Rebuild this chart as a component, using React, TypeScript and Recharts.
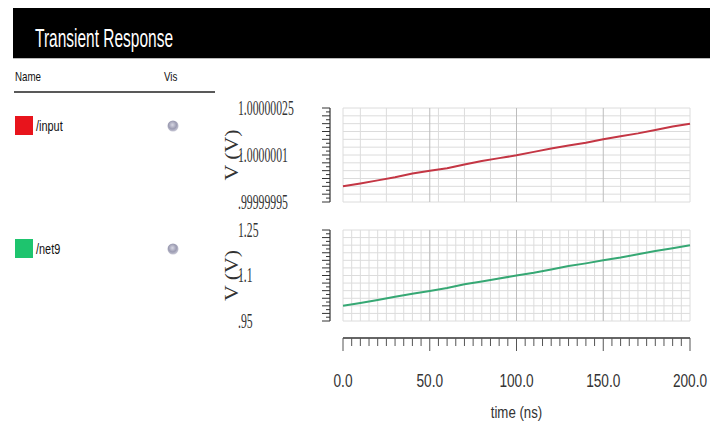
import React from "react";
import { LineChart, Line, XAxis, YAxis, CartesianGrid, ReferenceLine } from "recharts";

// ---------- data ----------
const timeNs = [0, 10, 20, 30, 40, 50, 60, 70, 80, 90, 100, 110, 120, 130, 140, 150, 160, 170, 180, 190, 200];
const inputV = [
  1.0, 1.000000009, 1.000000019, 1.000000029, 1.000000041, 1.00000005, 1.000000058, 1.00000007,
  1.000000081, 1.00000009, 1.000000099, 1.00000011, 1.000000121, 1.00000013, 1.000000139, 1.00000015,
  1.00000016, 1.000000169, 1.00000018, 1.000000191, 1.0000002,
];
const net9V = [
  1.0, 1.009, 1.019, 1.03, 1.04, 1.049, 1.059, 1.071, 1.08, 1.09, 1.1, 1.109, 1.12, 1.131, 1.14, 1.15,
  1.159, 1.17, 1.181, 1.19, 1.2,
];

const xMajorTicks = [0, 50, 100, 150, 200];
const xTickLabels = ["0.0", "50.0", "100.0", "150.0", "200.0"];
const inputTicks = [0.99999995, 1.0000001, 1.00000025];
const inputTickLabels = [".99999995", "1.0000001", "1.00000025"];
const net9Ticks = [0.95, 1.1, 1.25];
const net9TickLabels = [".95", "1.1", "1.25"];

const signalNames = ["/input", "/net9"];
const signalColors = ["#e8141c", "#1ec46e"];
const lineColors = ["#c43644", "#36a874"];

const inputData = timeNs.map((t, i) => ({ t, v: inputV[i] }));
const net9Data = timeNs.map((t, i) => ({ t, v: net9V[i] }));

// ---------- layout ----------
const CHART_LEFT = 220;
const CHART_W = 490;
const Y_AXIS_W = 123;
const RIGHT_M = 20;
const PLOT_W = CHART_W - Y_AXIS_W - RIGHT_M;
const AXIS_X = 110; // y-axis line, relative to chart
const LABEL_X = 18; // y tick labels left edge
const TOP = { top: 95, height: 120, mTop: 13, mBottom: 13 };
const TOP_PLOT_H = TOP.height - TOP.mTop - TOP.mBottom;
const BOT = { top: 215, height: 212, mTop: 15, xAxisH: 106 };
const BOT_PLOT_H = BOT.height - BOT.mTop - BOT.xAxisH;
const X_AXIS_GAP = 17;

function steps(min: number, max: number, n: number) {
  const out: number[] = [];
  for (let i = 0; i <= n; i++) out.push(min + ((max - min) * i) / n);
  return out;
}

const xMinor = steps(0, 200, 40);
const xGrid = steps(0, 200, 40);

function makeYTick(majors: number[], labels: string[], plotH: number, n: number) {
  const min = majors[0];
  const max = majors[majors.length - 1];
  const step = (max - min) / n;
  const eps = step / 10;
  return (props: any) => {
    const { y, payload } = props;
    const v = payload.value as number;
    const k = majors.findIndex((m) => Math.abs(m - v) < eps);
    const idx = Math.round((v - min) / step);
    const long = idx % 2 === 0;
    return (
      <g>
        {idx === 0 && <line x1={AXIS_X} y1={y} x2={AXIS_X} y2={y - plotH} stroke="#333" strokeWidth={1.2} />}
        <line x1={AXIS_X - (long ? 8 : 4)} y1={y} x2={AXIS_X} y2={y} stroke="#333" strokeWidth={1} />
        {k >= 0 && (
          <text
            transform={`translate(${LABEL_X},${y}) scale(0.56,1)`}
            x={0}
            y={0}
            fontFamily="'Liberation Serif', 'DejaVu Serif', serif"
            fontSize={21}
            dominantBaseline="central"
            fill="#333"
          >
            {labels[k]}
          </text>
        )}
      </g>
    );
  };
}

const renderXTick = (props: any) => {
  const { x, payload } = props;
  const v = payload.value as number;
  const k = xMajorTicks.indexOf(v);
  const axY = BOT.mTop + BOT_PLOT_H + X_AXIS_GAP;
  return (
    <g>
      {v === 0 && <line x1={x} y1={axY} x2={x + PLOT_W} y2={axY} stroke="#333" strokeWidth={1.3} />}
      <line x1={x} y1={axY} x2={x} y2={axY + (k >= 0 ? 13 : 8)} stroke="#555" strokeWidth={1} />
      {k >= 0 && (
        <text
          transform={`translate(${x},${axY + 43}) scale(0.76,1)`}
          x={0}
          y={0}
          textAnchor="middle"
          dominantBaseline="central"
          fontFamily="'Liberation Sans', Arial, sans-serif"
          fontSize={18}
          fill="#333"
        >
          {xTickLabels[k]}
        </text>
      )}
    </g>
  );
};

function vLabel(plotTop: number, plotH: number) {
  return (props: any) => (
    <text
      transform={`translate(12,${plotTop + plotH / 2}) rotate(-90) scale(1.15,1)`}
      x={0}
      y={0}
      textAnchor="middle"
      dominantBaseline="central"
      fontFamily="'Liberation Serif', 'DejaVu Serif', serif"
      fontSize={19}
      fill="#333"
    >
      V (V)
    </text>
  );
}

const timeLabel = (props: any) => (
  <text
    transform={`translate(${Y_AXIS_W + PLOT_W / 2},${BOT.mTop + BOT_PLOT_H + 91}) scale(0.78,1)`}
    x={0}
    y={0}
    textAnchor="middle"
    dominantBaseline="central"
    fontFamily="'Liberation Sans', Arial, sans-serif"
    fontSize={17}
    fill="#333"
  >
    time (ns)
  </text>
);

function Plot(props: {
  data: { t: number; v: number }[];
  majors: number[];
  labels: string[];
  color: string;
  top: number;
  height: number;
  mTop: number;
  mBottom: number;
  plotH: number;
  bottomAxis: boolean;
}) {
  const { data, majors, labels, color, top, height, mTop, mBottom, plotH, bottomAxis } = props;
  const min = majors[0];
  const max = majors[majors.length - 1];
  const yAxisTicks = steps(min, max, 24);
  const yGrid = steps(min, max, 12);
  return (
    <div style={{ position: "absolute", left: CHART_LEFT, top }}>
      <LineChart width={CHART_W} height={height} data={data} margin={{ top: mTop, right: RIGHT_M, bottom: mBottom, left: 0 }}>
        <CartesianGrid stroke="#dcdcdc" strokeWidth={1} horizontalValues={yGrid} verticalValues={xGrid} />
        {xMajorTicks.slice(1, -1).map((t) => (
          <ReferenceLine key={t} x={t} stroke="#bdbdbd" strokeWidth={1} />
        ))}
        {bottomAxis ? (
          <XAxis
            dataKey="t"
            type="number"
            domain={[0, 200]}
            ticks={xMinor}
            interval={0}
            height={BOT.xAxisH}
            axisLine={false}
            tickLine={false}
            tick={renderXTick}
            label={{ content: timeLabel }}
          />
        ) : (
          <XAxis dataKey="t" type="number" domain={[0, 200]} hide />
        )}
        <YAxis
          type="number"
          domain={[min, max]}
          ticks={yAxisTicks}
          interval={0}
          width={Y_AXIS_W}
          axisLine={false}
          tickLine={false}
          tick={makeYTick(majors, labels, plotH, 24)}
          label={{ content: vLabel(mTop, plotH) }}
          allowDataOverflow
        />
        <Line
          type="linear"
          dataKey="v"
          stroke={color}
          strokeWidth={2}
          dot={false}
          activeDot={false}
          isAnimationActive={false}
        />
      </LineChart>
    </div>
  );
}

const legendY = [116, 239];

export default function App() {
  const sans = "'Liberation Sans', Arial, sans-serif";
  return (
    <div style={{ position: "absolute", left: 0, top: 0, width: 710, height: 427, background: "#fff", overflow: "hidden" }}>
      <svg width={710} height={427} style={{ position: "absolute", left: 0, top: 0 }}>
        <defs>
          <radialGradient id="visg" cx="45%" cy="40%" r="60%">
            <stop offset="0%" stopColor="#d8d8e4" />
            <stop offset="60%" stopColor="#9c9cb2" />
            <stop offset="100%" stopColor="#c8c8d6" />
          </radialGradient>
        </defs>
        <rect x={13} y={8} width={697} height={50} fill="#000" />
        <line x1={13} y1={58.5} x2={710} y2={58.5} stroke="#bbb" strokeWidth={1} />
        <text transform="translate(35,47) scale(0.62,1)" x={0} y={0} fontFamily={sans} fontSize={25} fill="#fff">
          Transient Response
        </text>
        <text transform="translate(15,81) scale(0.75,1)" x={0} y={0} fontFamily={sans} fontSize={13} fill="#111">
          Name
        </text>
        <text transform="translate(164,81) scale(0.75,1)" x={0} y={0} fontFamily={sans} fontSize={13} fill="#111">
          Vis
        </text>
        <line x1={14} y1={92} x2={215} y2={92} stroke="#222" strokeWidth={1.5} />
        {signalNames.map((name, i) => (
          <g key={name}>
            <rect x={15} y={legendY[i]} width={18} height={19} fill={signalColors[i]} />
            <text
              transform={`translate(36,${legendY[i] + 15}) scale(0.78,1)`}
              x={0}
              y={0}
              fontFamily={sans}
              fontSize={14}
              fill="#111"
            >
              {name}
            </text>
            <circle cx={173} cy={legendY[i] + 10} r={5.5} fill="url(#visg)" />
          </g>
        ))}
      </svg>
      <Plot
        data={inputData}
        majors={inputTicks}
        labels={inputTickLabels}
        color={lineColors[0]}
        top={TOP.top}
        height={TOP.height}
        mTop={TOP.mTop}
        mBottom={TOP.mBottom}
        plotH={TOP_PLOT_H}
        bottomAxis={false}
      />
      <Plot
        data={net9Data}
        majors={net9Ticks}
        labels={net9TickLabels}
        color={lineColors[1]}
        top={BOT.top}
        height={BOT.height}
        mTop={BOT.mTop}
        mBottom={0}
        plotH={BOT_PLOT_H}
        bottomAxis={true}
      />
    </div>
  );
}
